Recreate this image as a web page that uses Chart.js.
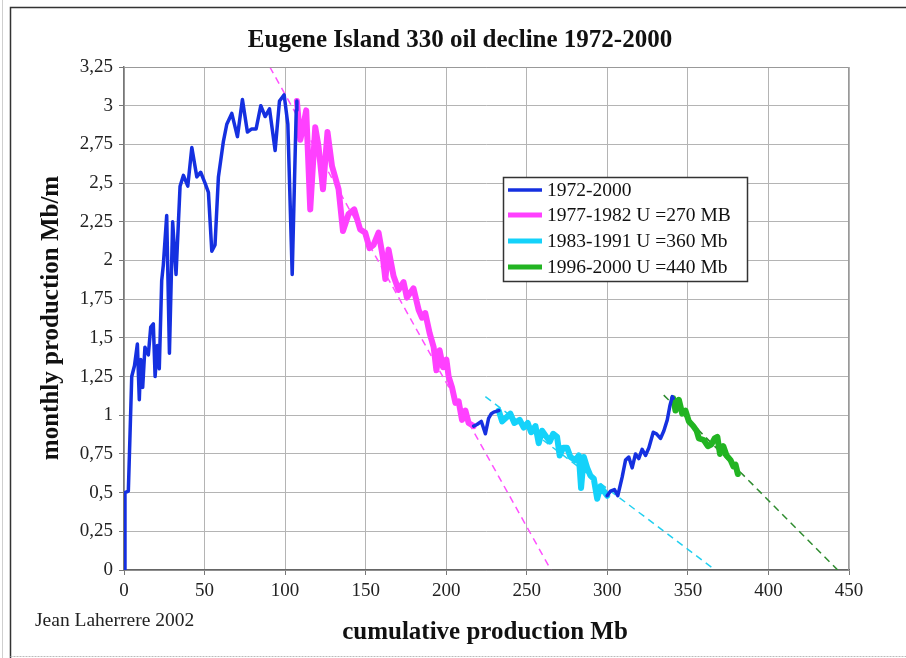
<!DOCTYPE html>
<html>
<head>
<meta charset="utf-8">
<script src="https://cdn.jsdelivr.net/npm/chart.js@4.4.1/dist/chart.umd.min.js"></script>
<style>
  html, body { margin: 0; padding: 0; background: #fff; }
  #wrap { width: 906px; height: 658px; }
</style>
</head>
<body>
<div id="wrap"><canvas id="chart" width="906" height="658"></canvas></div>
<script>
// cumulative production (Mb) and monthly production (Mb/m)
const blueEarlyX = [0, 0.6, 2.7, 4.8, 6.5, 8.3, 9.5, 10.4, 11.6, 13, 15.1, 16.6, 18.2, 19.3, 20.7, 21.9, 23.4, 24.4, 26.5, 28.2, 30.2, 32.3, 34.8, 36.9, 39.6, 42.1, 45.2, 47.6, 50.3, 52.4, 54.5, 56.5, 58.6, 61.7, 63.8, 66.9, 70.4, 73.5, 76.6, 79.3, 82, 84.9, 87.6, 90.3, 93.8, 96.5, 99.4, 101.7, 104.4, 106.9, 107.3];
const blueEarlyY = [0, 0.5, 0.51, 1.25, 1.32, 1.46, 1.10, 1.36, 1.18, 1.44, 1.39, 1.57, 1.59, 1.25, 1.45, 1.30, 1.87, 1.97, 2.29, 1.40, 2.25, 1.91, 2.48, 2.55, 2.48, 2.73, 2.54, 2.57, 2.50, 2.44, 2.06, 2.10, 2.54, 2.77, 2.88, 2.95, 2.80, 3.04, 2.83, 2.85, 2.85, 3.00, 2.93, 2.98, 2.71, 3.03, 3.07, 2.88, 1.91, 2.97, 3.03];

const blueMidX = [217, 219.1, 221.8, 224.3, 226.3, 228, 229.5, 232.6];
const blueMidY = [0.93, 0.94, 0.96, 0.88, 0.98, 1.01, 1.02, 1.03];

const blueLateX = [299.9, 302, 304.4, 306.5, 309.2, 311.3, 313.3, 315.4, 317.5, 319.5, 321.6, 323.7, 325.8, 328.5, 330.5, 333, 335.1, 337.2, 338.8, 340.3, 340.9];
const blueLateY = [0.48, 0.51, 0.52, 0.48, 0.60, 0.71, 0.73, 0.66, 0.75, 0.72, 0.78, 0.74, 0.79, 0.89, 0.88, 0.85, 0.90, 0.97, 1.06, 1.12, 1.11];

const pinkX = [107.3, 109.4, 111, 113.1, 115.6, 118.7, 120.7, 123.5, 126.3, 129.1, 133.2, 135.9, 139.4, 142.9, 146.6, 149.7, 152.4, 154.9, 158, 160.7, 162.2, 164.2, 167.3, 170.4, 173.5, 175.6, 179.7, 182.9, 185, 187, 189.7, 192.2, 193.9, 195.9, 198, 200.1, 201.5, 203.6, 205.7, 207.7, 209.8, 211.9, 213.9, 217];
const pinkY = [3.03, 2.78, 2.85, 2.97, 2.33, 2.86, 2.74, 2.46, 2.83, 2.61, 2.46, 2.19, 2.30, 2.33, 2.20, 2.18, 2.08, 2.10, 2.18, 2.02, 1.88, 2.07, 1.90, 1.81, 1.86, 1.76, 1.82, 1.68, 1.63, 1.66, 1.53, 1.44, 1.29, 1.42, 1.31, 1.36, 1.25, 1.18, 1.08, 1.09, 0.97, 1.03, 0.95, 0.93];

const cyanX = [232.6, 234.7, 237.8, 239.8, 242.3, 245.6, 248.1, 250.6, 252.7, 255.4, 257.4, 259.5, 262.2, 264.3, 266.4, 268.8, 270.4, 272.6, 275, 277.1, 280.2, 282.3, 283.7, 285.4, 287.5, 289.5, 291.6, 293.7, 295.7, 297.8, 299.9];
const cyanY = [1.03, 0.96, 0.99, 1.01, 0.95, 0.97, 0.92, 0.95, 0.89, 0.93, 0.82, 0.90, 0.86, 0.83, 0.88, 0.86, 0.74, 0.79, 0.79, 0.73, 0.71, 0.74, 0.53, 0.73, 0.66, 0.61, 0.59, 0.46, 0.54, 0.51, 0.48];

const greenX = [340.9, 342.3, 344.4, 346.5, 348.5, 350.6, 353.3, 355.4, 356.8, 359.9, 362.4, 364.5, 366.6, 368.3, 369.9, 372, 374, 376.5, 378.2, 379.6, 381];
const greenY = [1.11, 1.03, 1.10, 1.01, 1.03, 0.96, 0.93, 0.90, 0.85, 0.84, 0.80, 0.81, 0.85, 0.86, 0.75, 0.80, 0.74, 0.71, 0.67, 0.68, 0.62];

// decline trend lines
const pinkFitX = [90.5, 265];
const pinkFitY = [3.25, 0];
const cyanFitX = [224.3, 367];
const cyanFitY = [1.12, 0];
const greenFitX = [335, 443];
const greenFitY = [1.13, 0];

const seriesLabels = ["1972-2000", "1977-1982 U =270 MB", "1983-1991 U =360 Mb", "1996-2000 U =440 Mb"];
const xTicks = [0, 50, 100, 150, 200, 250, 300, 350, 400, 450];
const yTicks = [0, 0.25, 0.5, 0.75, 1, 1.25, 1.5, 1.75, 2, 2.25, 2.5, 2.75, 3, 3.25];

const SERIF = "'Liberation Serif', 'DejaVu Serif', serif";

function pts(xs, ys) {
  return xs.map((x, i) => ({ x: x, y: ys[i] }));
}

// blue segments joined with gaps so one legend entry covers them
const bluePts = pts(blueEarlyX, blueEarlyY)
  .concat([{ x: 160, y: null }], pts(blueMidX, blueMidY))
  .concat([{ x: 265, y: null }], pts(blueLateX, blueLateY));

const frameAndText = {
  id: "frameAndText",
  beforeDraw(chart) {
    const ctx = chart.ctx;
    ctx.save();
    ctx.fillStyle = "#fff";
    ctx.fillRect(0, 0, chart.width, chart.height);
    // thin outer line + dark frame
    ctx.strokeStyle = "#cfcfcf";
    ctx.lineWidth = 1;
    ctx.beginPath();
    ctx.moveTo(2.5, 0);
    ctx.lineTo(2.5, chart.height);
    ctx.stroke();
    ctx.strokeStyle = "#333";
    ctx.lineWidth = 1.5;
    ctx.beginPath();
    ctx.moveTo(chart.width, 7.5);
    ctx.lineTo(10.5, 7.5);
    ctx.lineTo(10.5, chart.height);
    ctx.stroke();
    ctx.strokeStyle = "#bbb";
    ctx.lineWidth = 1;
    ctx.setLineDash([2, 1]);
    ctx.beginPath();
    ctx.moveTo(10.5, 656.5);
    ctx.lineTo(chart.width, 656.5);
    ctx.stroke();
    ctx.restore();
  },
  afterDraw(chart) {
    const ctx = chart.ctx;
    const area = chart.chartArea;
    ctx.save();
    // plot border (top / right)
    ctx.strokeStyle = "#999";
    ctx.lineWidth = 1;
    ctx.beginPath();
    ctx.moveTo(area.left, area.top + 0.5);
    ctx.lineTo(area.right - 0.5, area.top + 0.5);
    ctx.lineTo(area.right - 0.5, area.bottom);
    ctx.stroke();

    ctx.fillStyle = "#111";
    ctx.textAlign = "center";
    ctx.textBaseline = "alphabetic";
    ctx.font = "bold 25px " + SERIF;
    ctx.fillText("Eugene Island 330 oil decline 1972-2000", 460, 47);

    ctx.fillText("cumulative production Mb", 485, 639);

    ctx.save();
    ctx.translate(58, 318);
    ctx.rotate(-Math.PI / 2);
    ctx.fillText("monthly production Mb/m", 0, 0);
    ctx.restore();

    ctx.fillStyle = "#222";
    ctx.textAlign = "left";
    ctx.font = "19.5px " + SERIF;
    ctx.fillText("Jean Laherrere 2002", 35, 626);

    // legend box inside the plot
    const box = { l: 503, t: 177, r: 747, b: 281 };
    ctx.fillStyle = "#fff";
    ctx.fillRect(box.l, box.t, box.r - box.l, box.b - box.t);
    ctx.strokeStyle = "#333";
    ctx.lineWidth = 1.5;
    ctx.strokeRect(box.l + 0.5, box.t + 0.5, box.r - box.l, box.b - box.t);
    ctx.font = "19.5px " + SERIF;
    ctx.textBaseline = "middle";
    const rows = [190, 215, 241, 267];
    for (let i = 0; i < seriesLabels.length; i++) {
      const ds = chart.data.datasets[i];
      ctx.strokeStyle = ds.borderColor;
      ctx.lineWidth = i === 0 ? 3.5 : 5;
      ctx.beginPath();
      ctx.moveTo(508, rows[i]);
      ctx.lineTo(542, rows[i]);
      ctx.stroke();
      ctx.fillStyle = "#111";
      ctx.fillText(seriesLabels[i], 547, rows[i] + 1);
    }
    ctx.restore();
  },
};

const solid = (label, data, color, width) => ({
  label: label,
  data: data,
  borderColor: color,
  backgroundColor: color,
  borderWidth: width,
  pointRadius: 0,
  tension: 0,
  spanGaps: false,
  borderJoinStyle: "round",
  borderCapStyle: "round",
});

const dashed = (data, color) => ({
  label: "",
  data: data,
  borderColor: color,
  borderWidth: 1.5,
  borderDash: [7, 5],
  pointRadius: 0,
  tension: 0,
});

new Chart(document.getElementById("chart"), {
  type: "line",
  data: {
    datasets: [
      solid(seriesLabels[0], bluePts, "#1530e0", 3.5),
      solid(seriesLabels[1], pts(pinkX, pinkY), "#ff40ff", 6),
      solid(seriesLabels[2], pts(cyanX, cyanY), "#14d2fa", 6),
      solid(seriesLabels[3], pts(greenX, greenY), "#22b422", 6),
      dashed(pts(pinkFitX, pinkFitY), "#ff50ff"),
      dashed(pts(cyanFitX, cyanFitY), "#22d0f0"),
      dashed(pts(greenFitX, greenFitY), "#2e8b2e"),
    ],
  },
  options: {
    responsive: false,
    animation: false,
    layout: { padding: { left: 0, top: 67, right: 57, bottom: 0 } },
    plugins: {
      legend: { display: false },
      tooltip: { enabled: false },
      title: { display: false },
    },
    scales: {
      x: {
        type: "linear",
        min: xTicks[0],
        max: xTicks[xTicks.length - 1],
        afterFit: (scale) => { scale.height = 88; },
        afterBuildTicks: (scale) => { scale.ticks = xTicks.map((v) => ({ value: v })); },
        ticks: {
          color: "#222",
          padding: 5,
          font: { family: SERIF, size: 19 },
          callback: (v) => String(v),
        },
        grid: { color: "#b4b4b4", tickLength: 5, tickColor: "#777" },
        border: { color: "#666", width: 1.5 },
      },
      y: {
        type: "linear",
        min: yTicks[0],
        max: yTicks[yTicks.length - 1],
        afterFit: (scale) => { scale.width = 124; },
        afterBuildTicks: (scale) => { scale.ticks = yTicks.map((v) => ({ value: v })); },
        ticks: {
          color: "#222",
          padding: 6,
          font: { family: SERIF, size: 19 },
          callback: (v) => String(Math.round(v * 100) / 100).replace(".", ","),
        },
        grid: { color: "#b4b4b4", tickLength: 5, tickColor: "#777" },
        border: { color: "#777", width: 1.5 },
      },
    },
  },
  plugins: [frameAndText],
});
</script>
</body>
</html>
